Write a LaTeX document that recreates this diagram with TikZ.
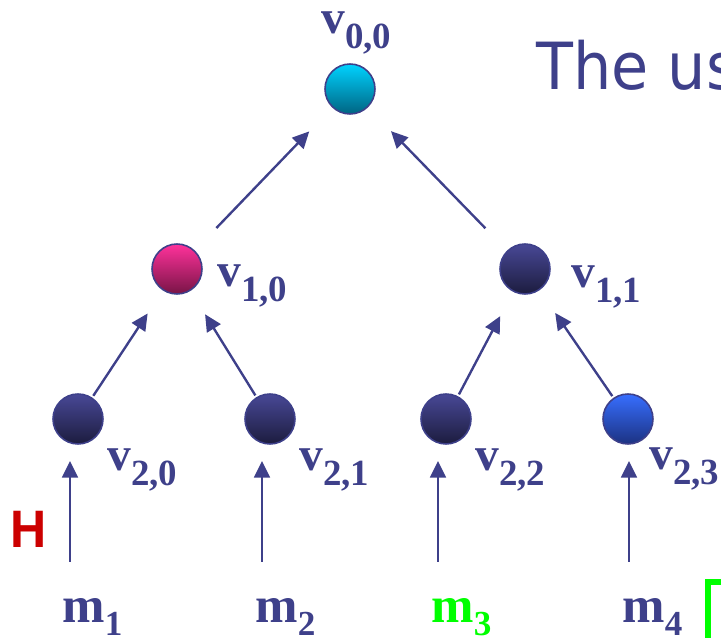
\documentclass[tikz,border=0pt]{standalone}
\usepackage{fontspec}
\usetikzlibrary{arrows.meta}
\newfontfamily\lblfont{Liberation Serif}
\newfontfamily\titlefont{DejaVu Sans}[FakeStretch=0.93]
\newfontfamily\hfont{Liberation Sans}[FakeStretch=0.95]
\definecolor{navy}{RGB}{62,64,138}
\definecolor{darktop}{RGB}{72,72,150}
\definecolor{darkbot}{RGB}{28,28,62}
\definecolor{cyantop}{RGB}{0,210,255}
\definecolor{cyanbot}{RGB}{0,100,130}
\definecolor{pinktop}{RGB}{255,50,155}
\definecolor{pinkbot}{RGB}{120,20,70}
\definecolor{bluetop}{RGB}{55,110,255}
\definecolor{bluebot}{RGB}{28,50,130}
\definecolor{hred}{RGB}{204,0,0}
\definecolor{mgreen}{RGB}{0,255,0}
\newcommand\vtxt[1]{v\raisebox{-8.5pt}{\fontsize{21}{21}\selectfont#1}}
\newcommand\mtxt[1]{m\raisebox{-7pt}{\fontsize{20}{20}\selectfont#1}}
\begin{document}
\begin{tikzpicture}[x=0.02cm,y=-0.02cm,
  vert/.style={circle,draw=navy,line width=0.9pt,minimum size=1cm,inner sep=0pt},
  dark/.style={vert,top color=darktop,bottom color=darkbot},
  link/.style={navy,line width=1.35pt,-{Triangle[length=9.5pt,width=9pt]}},
  upper/.style={link,shorten <=0.62cm,shorten >=0.66cm},
  lower/.style={link,shorten <=0.04cm,shorten >=0.55cm},
  vlab/.style={anchor=base west,inner sep=0pt,text=navy,font=\lblfont\bfseries\fontsize{27}{27}\selectfont},
  mlab/.style={anchor=base west,inner sep=0pt,text=navy,font=\lblfont\bfseries\fontsize{29}{29}\selectfont}]
 \useasboundingbox (0,0) rectangle (721,638);
 \clip (0,0) rectangle (721,638);
 \node[anchor=base west,inner sep=0pt,text=navy,font=\titlefont\fontsize{37}{37}\selectfont] (title) at (536,90) {The us};
 \node[vert,top color=cyantop,bottom color=cyanbot] (v00) at (350,89) {};
 \node[vert,top color=pinktop,bottom color=pinkbot] (v10) at (177,269) {};
 \node[dark] (v11) at (525,269) {};
 \node[dark] (v20) at (78,419) {};
 \node[dark] (v21) at (270,419) {};
 \node[dark] (v22) at (446,419) {};
 \node[vert,top color=bluetop,bottom color=bluebot] (v23) at (628,419) {};
 \draw[upper] (v10) -- (v00);
 \draw[upper] (v11) -- (v00);
 \draw[lower] (v20) -- (v10);
 \draw[lower] (v21) -- (v10);
 \draw[lower] (v22) -- (v11);
 \draw[lower] (v23) -- (v11);
 \node[vlab] (l00) at (321,34) {\vtxt{0,0}};
 \node[vlab] (l10) at (217,287) {\vtxt{1,0}};
 \node[vlab] (l11) at (571,288) {\vtxt{1,1}};
 \node[vlab] (l20) at (107,471) {\vtxt{2,0}};
 \node[vlab] (l21) at (299,471) {\vtxt{2,1}};
 \node[vlab] (l22) at (475,471) {\vtxt{2,2}};
 \node[vlab] (l23) at (649,470) {\vtxt{2,3}};
 \foreach \n/\x in {1/70,2/262,3/438,4/629} {
  \coordinate (b\n) at (\x,562);
  \coordinate (t\n) at (\x,461);
  \draw[link] (b\n) -- (t\n);
 }
 \node[mlab] (m1) at (62,623) {\mtxt{1}};
 \node[mlab] (m2) at (255,623) {\mtxt{2}};
 \node[mlab,text=mgreen] (m3) at (431,623) {\mtxt{3}};
 \node[mlab] (m4) at (622,623) {\mtxt{4}};
 \node[anchor=base west,inner sep=0pt,text=hred,font=\hfont\bfseries\fontsize{30}{30}\selectfont] (hlab) at (10,548) {H};
 \coordinate (gc) at (708,582);
 \draw[mgreen,line width=3.4pt] (708,660) -- (gc) -- (740,582);
\end{tikzpicture}
\end{document}
